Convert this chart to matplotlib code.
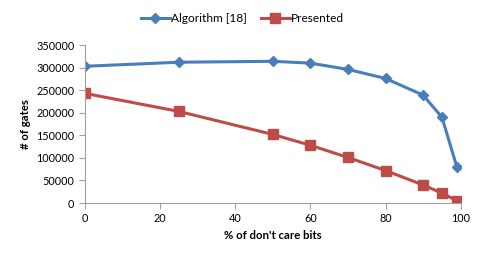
import matplotlib
matplotlib.use("Agg")
import matplotlib.pyplot as plt

# % of don't care bits
x = [0, 25, 50, 60, 70, 80, 90, 95, 99]
algorithm18 = [303000, 312000, 314000, 310000, 296000, 276000, 239000, 190000, 79000]
presented = [243000, 203000, 152000, 128000, 101000, 72000, 40000, 22000, 5000]

plt.rcParams['font.family'] = ['Lato', 'DejaVu Sans']

fig = plt.figure(figsize=(4.85, 2.62), dpi=100)
ax = fig.add_axes([0.175, 0.225, 0.775, 0.603])

ax.plot(x, algorithm18, color='#4A7EBB', lw=2.2, marker='D', ms=5, label='Algorithm [18]')
ax.plot(x, presented, color='#BE4B48', lw=2.2, marker='s', ms=6.5, label='Presented')

ax.set_xlim(0, 100)
ax.set_ylim(0, 350000)
ax.set_xticks(range(0, 101, 20))
ax.set_yticks(range(0, 350001, 50000))
for s in ['top', 'right']:
    ax.spines[s].set_visible(False)
for s in ['left', 'bottom']:
    ax.spines[s].set_color('#A0A0A0')
ax.tick_params(colors='#A0A0A0', labelcolor='black', labelsize=7.8, length=4)
for lab in ax.get_xticklabels():
    lab.set_clip_on(False)

ax.set_xlabel("% of don't care bits", fontsize=8.2, fontweight='bold')
ax.set_ylabel('# of gates', fontsize=8.2, fontweight='bold')

fig.legend(loc='center', bbox_to_anchor=(0.5, 0.93), ncol=2, frameon=False,
           fontsize=8.6, handlelength=2.4, columnspacing=1.2, handletextpad=0.1)

fig.savefig('out.png', dpi=100)
